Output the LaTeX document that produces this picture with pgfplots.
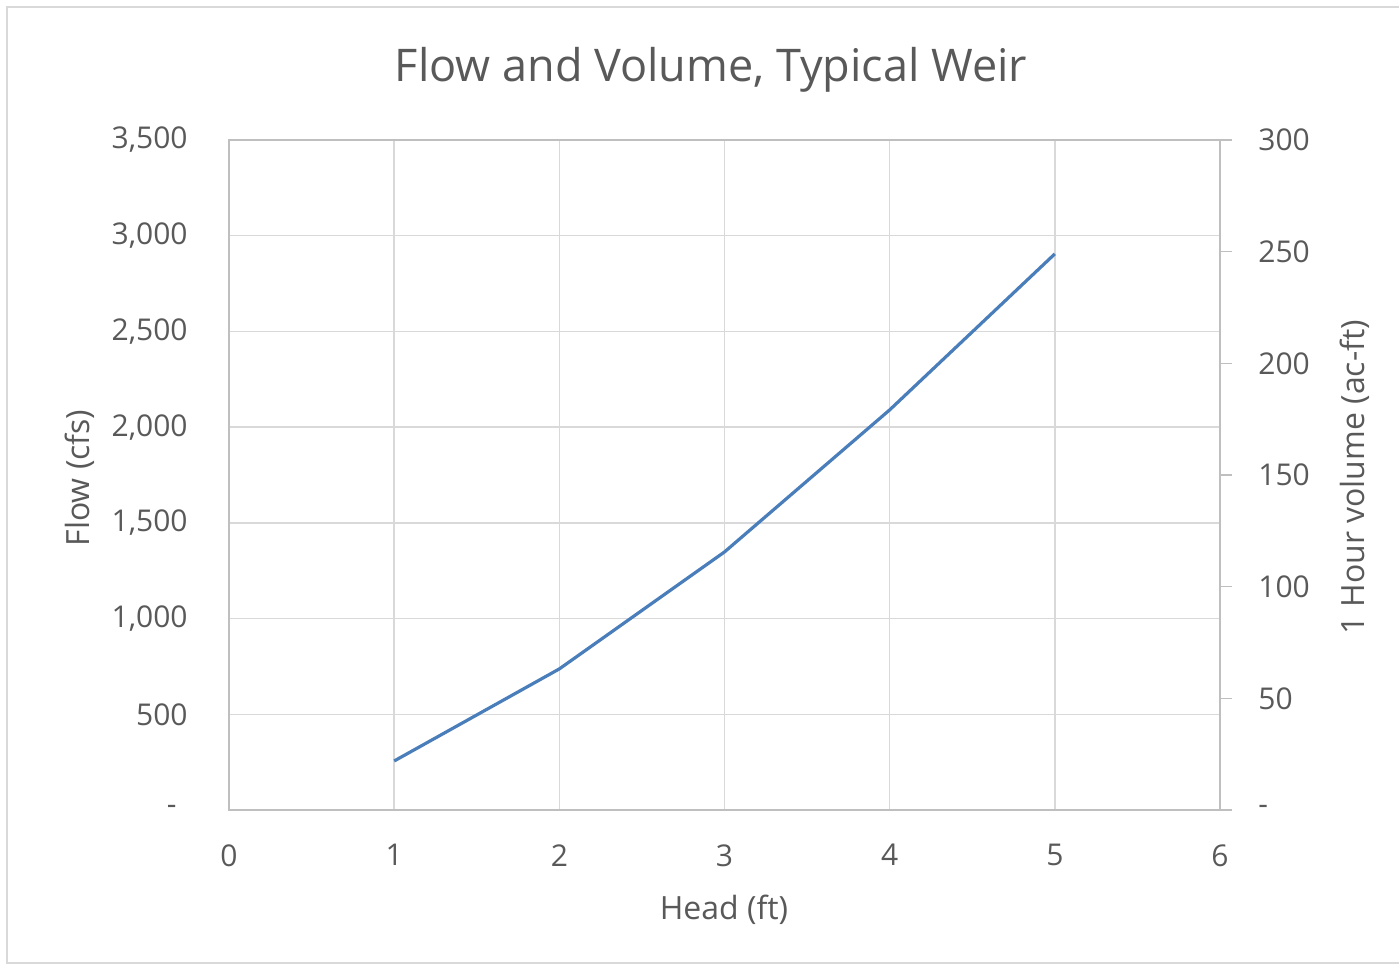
\documentclass[border=0pt]{standalone}
\usepackage{pgfplots}
\pgfplotsset{compat=1.18}
\usepackage{fontspec}
\setmainfont{Open Sans}
\definecolor{txt}{HTML}{595959}
\definecolor{grd}{HTML}{D9D9D9}
\definecolor{axl}{HTML}{BFBFBF}
\definecolor{ln}{HTML}{4A7EBB}
\begin{document}
\begin{tikzpicture}[x=0.5pt,y=0.5pt]
\path[use as bounding box] (0,0) rectangle (1399,970);
\draw[grd, line width=1pt] (7,7) rectangle (1420,963);
\begin{axis}[
  at={(114.5pt,80pt)}, anchor=south west,
  scale only axis, width=495.5pt, height=335pt,
  xmin=0, xmax=6, ymin=0, ymax=3500,
  xtick={0,1,2,3,4,5,6},
  ytick={0,500,1000,1500,2000,2500,3000,3500},
  yticklabels={{-\rule{5.5pt}{0pt}},500,{1,000},{1,500},{2,000},{2,500},{3,000},{3,500}},
  xticklabels={0,1,2,3,4,5,6},
  grid=major,
  major grid style={grd, line width=0.7pt},
  axis line style={axl, line width=0.8pt},
  major tick length=0pt,
  tick style={draw=none},
  tick label style={txt, font=\fontsize{15}{17}\selectfont, inner sep=0pt},
  yticklabel style={anchor=east, xshift=-20.5pt},
  xticklabel style={anchor=north, yshift=-17pt},
]
\addplot[ln, line width=1.6pt] coordinates {(1,256) (2,737) (3,1348) (4,2090) (5,2905)};
\end{axis}
\begin{axis}[
  at={(114.5pt,80pt)}, anchor=south west,
  scale only axis, width=495.5pt, height=335pt,
  xmin=0, xmax=6, ymin=0, ymax=300,
  axis x line=none, axis y line*=right,
  ytick={0,50,100,150,200,250,300},
  yticklabels={-,50,100,150,200,250,300},
  axis line style={axl, line width=0.8pt},
  tick align=outside, major tick length=6pt,
  ytick style={axl, line width=0.8pt},
  tick label style={txt, font=\fontsize{15}{17}\selectfont, inner sep=0pt},
  yticklabel style={anchor=west, xshift=13pt},
]
\end{axis}
\node[txt, anchor=base, font=\fontsize{22.5}{26}\selectfont] at (711,888) {Flow and Volume, Typical Weir};
\node[txt, anchor=base, font=\fontsize{16}{19}\selectfont] at (724,50) {Head (ft)};
\node[txt, anchor=base, rotate=90, font=\fontsize{16}{19}\selectfont] at (89,492) {Flow (cfs)};
\node[txt, anchor=base, rotate=90, font=\fontsize{16}{19}\selectfont] at (1364,493) {1 Hour volume (ac-ft)};
\end{tikzpicture}
\end{document}
